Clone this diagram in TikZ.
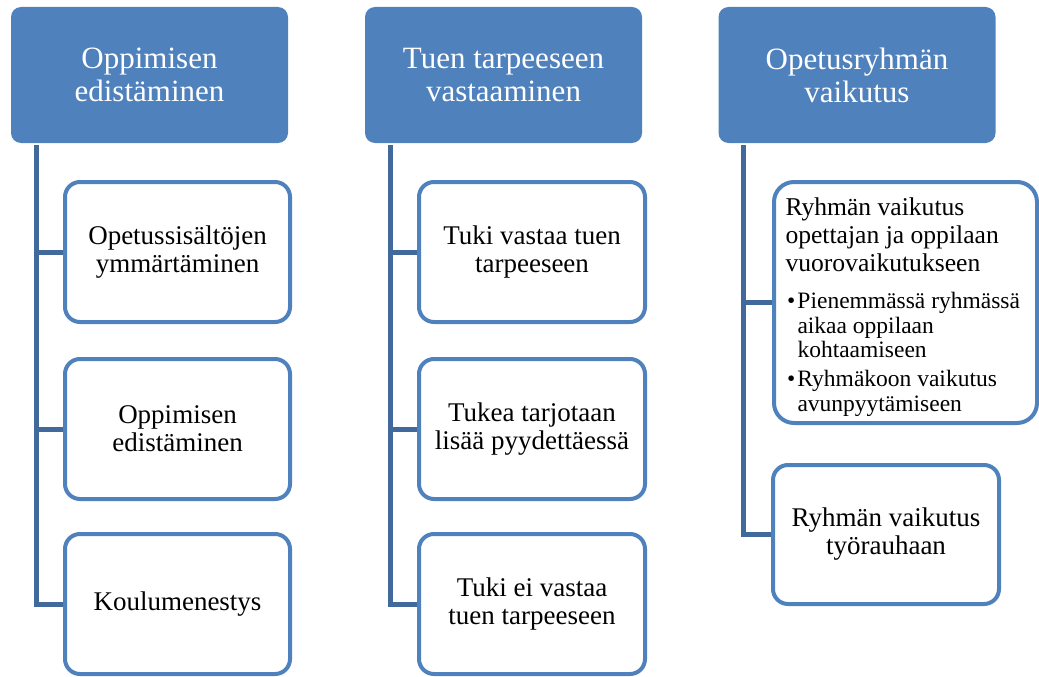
\documentclass[tikz,border=0pt]{standalone}
\usepackage{fontspec}
\setmainfont{Liberation Serif}
\definecolor{hdr}{HTML}{4F81BD}
\definecolor{trunk}{HTML}{41699C}
\begin{document}
\begin{tikzpicture}[x=1pt,y=-1pt,
  header/.style={rectangle, rounded corners=10pt, fill=hdr, draw=none, text=white,
    minimum width=277pt, minimum height=136pt, align=center, inner sep=0pt,
    font=\fontsize{31}{33}\selectfont},
  cbox/.style={rectangle, rounded corners=15pt, draw=hdr, line width=4pt, fill=white,
    minimum width=225pt, minimum height=140pt, align=center, inner sep=0pt,
    font=\fontsize{27}{28}\selectfont},
  link/.style={draw=trunk, line width=5pt}]
\useasboundingbox (0,0) rectangle (1039,677);

% headers
\node[header] (h1) at (149.5,75) {Oppimisen\\edistäminen};
\node[header] (h2) at (503.5,75) {Tuen tarpeeseen\\vastaaminen};
\node[header] (h3) at (857,75) {Opetusryhmän\\vaikutus};

% column 1
\node[cbox] (a1) at (177.5,252) {Opetussisältöjen\\ymmärtäminen};
\node[cbox] (a2) at (177.5,429) {Oppimisen\\edistäminen};
\node[cbox] (a3) at (177.5,604) {Koulumenestys};

% column 2
\node[cbox, minimum width=226pt] (b1) at (532,252) {Tuki vastaa tuen\\tarpeeseen};
\node[cbox, minimum width=226pt] (b2) at (532,429) {Tukea tarjotaan\\lisää pyydettäessä};
\node[cbox, minimum width=226pt] (b3) at (532,604) {Tuki ei vastaa\\tuen tarpeeseen};

% column 3
\node[cbox, rounded corners=20pt, minimum width=263pt, minimum height=241pt] (c1) at (905.5,302.5) {\parbox{240pt}{%
  \vspace*{9pt}%
  {\fontsize{25.6}{28}\selectfont\raggedright Ryhmän vaikutus\\opettajan ja oppilaan\\vuorovaikutukseen\par}%
  \vspace{12.5pt}%
  {\fontsize{23.5}{24.5}\selectfont\noindent\hangindent=12pt\hangafter=1
   \makebox[12pt][l]{\hspace{1.5pt}•}Pienemmässä ryhmässä\\aikaa oppilaan\\kohtaamiseen\par
   \vspace{4.5pt}%
   \noindent\hangindent=12pt\hangafter=1
   \makebox[12pt][l]{\hspace{1.5pt}•}Ryhmäkoon vaikutus\\avunpyytämiseen\par}}};
\node[cbox, minimum width=226pt, minimum height=139pt] (c2) at (886,534.5) {Ryhmän vaikutus\\työrauhaan};

% trunks
\coordinate (t1) at (36,145);
\coordinate (t2) at (390,145);
\coordinate (t3) at (743,145);

\draw[link] (t1) |- (a3.west);
\draw[link] (a1.west -| t1) -- (a1.west);
\draw[link] (a2.west -| t1) -- (a2.west);

\draw[link] (t2) |- (b3.west);
\draw[link] (b1.west -| t2) -- (b1.west);
\draw[link] (b2.west -| t2) -- (b2.west);

\draw[link] (t3) |- (c2.west);
\draw[link] (c1.west -| t3) -- (c1.west);
\end{tikzpicture}
\end{document}
